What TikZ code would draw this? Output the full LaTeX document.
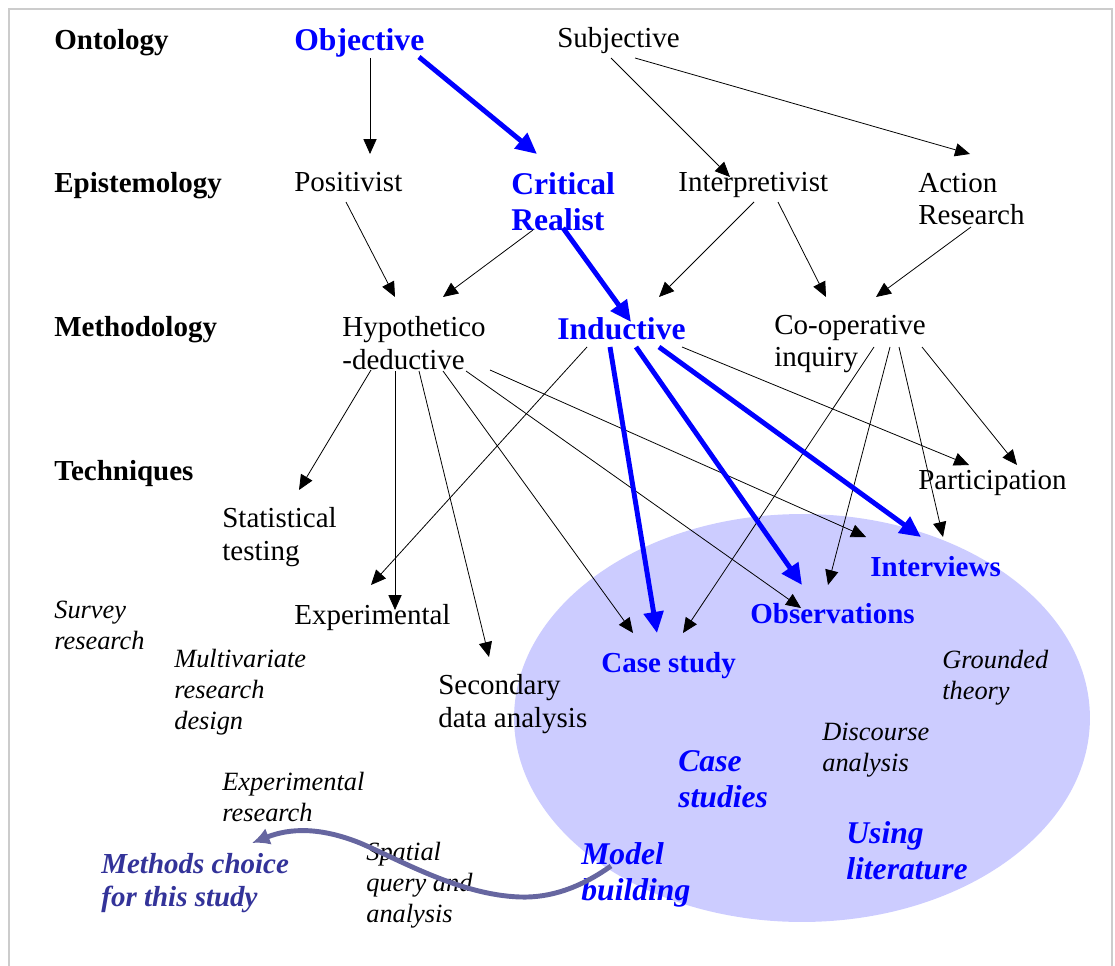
\documentclass[tikz,border=0pt]{standalone}
\usepackage{fontspec}
\setmainfont{Liberation Serif}
\usepackage{tikz}
\usetikzlibrary{calc,arrows.meta}

\definecolor{pathcol}{RGB}{102,102,160}
\definecolor{choicecol}{RGB}{51,51,153}

\tikzset{
	every node/.style={inner sep=0pt,anchor=west,align=left},
	lvl/.style={font=\fontsize{16.5}{18.7}\selectfont\bfseries},
	term/.style={font=\fontsize{16.5}{18.7}\selectfont},
	keyterm/.style={blue,font=\fontsize{18}{20.4}\selectfont\bfseries},
	picked/.style={blue,font=\fontsize{16.5}{18.7}\selectfont\bfseries},
	other/.style={font=\fontsize{15}{17.6}\selectfont\itshape},
	mine/.style={blue,font=\fontsize{18}{20.4}\selectfont\bfseries\itshape},
	arr/.style={black,line width=0.45pt,-{Triangle[length=8.5pt,width=7.5pt]}},
	barr/.style={blue,line width=2.8pt,-{Triangle[length=12pt,width=11pt]}}
}

\begin{document}
\begin{tikzpicture}[x=0.02cm,y=-0.02cm]
	\useasboundingbox (0,0) rectangle (1115,966);
	\draw[gray!40,line width=1.1pt] (9,966) |- (1112,9) -- (1112,966);
	\fill[blue!20] (802,718) ellipse [x radius=5.76cm,y radius=4.08cm];

	\node [lvl](onto) at (54,43) {Ontology};
	\node [lvl](epis) at (54,186) {Epistemology};
	\node [lvl](meth) at (54,330) {Methodology};
	\node [lvl](tech) at (54,474) {Techniques};

	\node [keyterm](obj) at (294,43) {Objective};
	\node [term](subj) at (557,41) {Subjective};
	\node [term](posi) at (294,182) {Positivist};
	\node [keyterm](crit) at (511,202) {Critical\\Realist};
	\node [term](interp) at (678,185) {Interpretivist};
	\node [term](action) at (918,199) {Action\\Research};
	\node [term](hypo) at (342,343) {Hypothetico\\-deductive};
	\node [keyterm](induct) at (557,329) {Inductive};
	\node [term](coop) at (774,344) {Co-operative\\inquiry};
	\node [term](partic) at (918,483) {Participation};
	\node [term](stat) at (222,537) {Statistical\\testing};
	\node [term](expt) at (294,618) {Experimental};
	\node [term](second) at (438,704) {Secondary\\data analysis};
	\node [picked](case) at (601,666) {Case study};
	\node [picked](obs) at (750,614) {Observations};
	\node [picked](interv) at (870,567) {Interviews};

	\node [other](survey) at (54,625) {Survey\\research};
	\node [other](multi) at (174,692) {Multivariate\\research\\design};
	\node [other](exres) at (222,797) {Experimental\\research};
	\node [other](spatial) at (366,885) {Spatial\\query and\\analysis};
	\node [other](disc) at (822,750) {Discourse\\analysis};
	\node [other](ground) at (942,678) {Grounded\\theory};
	\node [mine](casest) at (678,779) {Case\\studies};
	\node [mine](using) at (846,851) {Using\\literature};
	\node [mine](model) at (581,875) {Model\\building};
	\node [choicecol,font=\fontsize{16.5}{18.7}\selectfont\bfseries\itshape](choice) at (101,883) {Methods choice\\for this study};

	\draw [arr] ($(obj.west)+(76,15)$) -- ($(posi.west)+(76,-28)$);
	\draw [arr] ($(subj.west)+(54,17)$) -- ($(interp.west)+(52,-8)$);
	\draw [arr] ($(subj.west)+(78,17)$) -- ($(action.west)+(52,-45)$);
	\draw [arr] ($(posi.west)+(52,20)$) -- ($(hypo.west)+(53,-46)$);
	\draw [arr] ($(crit.west)+(22,28)$) -- ($(hypo.west)+(101,-46)$);
	\draw [arr] ($(interp.west)+(76,17)$) -- ($(induct.west)+(102,-32)$);
	\draw [arr] ($(interp.west)+(100,17)$) -- ($(coop.west)+(52,-47)$);
	\draw [arr] ($(action.west)+(53,28)$) -- ($(coop.west)+(102,-47)$);

	\draw [arr] ($(hypo.west)+(29,27)$) -- ($(stat.west)+(77,-47)$);
	\draw [arr] ($(hypo.west)+(53,28)$) -- ($(expt.west)+(101,-8)$);
	\draw [arr] ($(hypo.west)+(77,28)$) -- ($(second.west)+(51,-47)$);
	\draw [arr] ($(hypo.west)+(101,28)$) -- ($(case.west)+(32,-33)$);
	\draw [arr] ($(hypo.west)+(124,28)$) -- ($(obs.west)+(51,-6)$);
	\draw [arr] ($(hypo.west)+(148,27)$) -- ($(interv.west)+(-4,-30)$);
	\draw [arr] ($(induct.west)+(30,18)$) -- ($(expt.west)+(77,-33)$);
	\draw [arr] ($(induct.west)+(125,18)$) -- ($(partic.west)+(51,-18)$);
	\draw [arr] ($(coop.west)+(100,3)$) -- ($(case.west)+(82,-33)$);
	\draw [arr] ($(coop.west)+(116,3)$) -- ($(obs.west)+(78,-29)$);
	\draw [arr] ($(coop.west)+(125,3)$) -- ($(interv.west)+(73,-30)$);
	\draw [arr] ($(coop.west)+(148,3)$) -- ($(partic.west)+(99,-18)$);

	\draw [barr] ($(obj.west)+(125,14)$) -- ($(crit.west)+(26,-48)$);
	\draw [barr] ($(crit.west)+(52,26)$) -- ($(induct.west)+(74,-7)$);
	\draw [barr] ($(induct.west)+(53,18)$) -- ($(case.west)+(56,-33)$);
	\draw [barr] ($(induct.west)+(79,18)$) -- ($(obs.west)+(52,-29)$);
	\draw [barr] ($(induct.west)+(102,18)$) -- ($(interv.west)+(51,-30)$);

	\draw [pathcol,line width=2.8pt,-{Latex[length=10pt,width=10pt]}] ($(model.west)+(30,-9)$) .. controls (580,888) and (550,898) .. (520,897) .. controls (460,895) and (400,860) .. (360,843) .. controls (320,827) and (290,828) .. ($(choice.west)+(151,-40)$);
\end{tikzpicture}
\end{document}
